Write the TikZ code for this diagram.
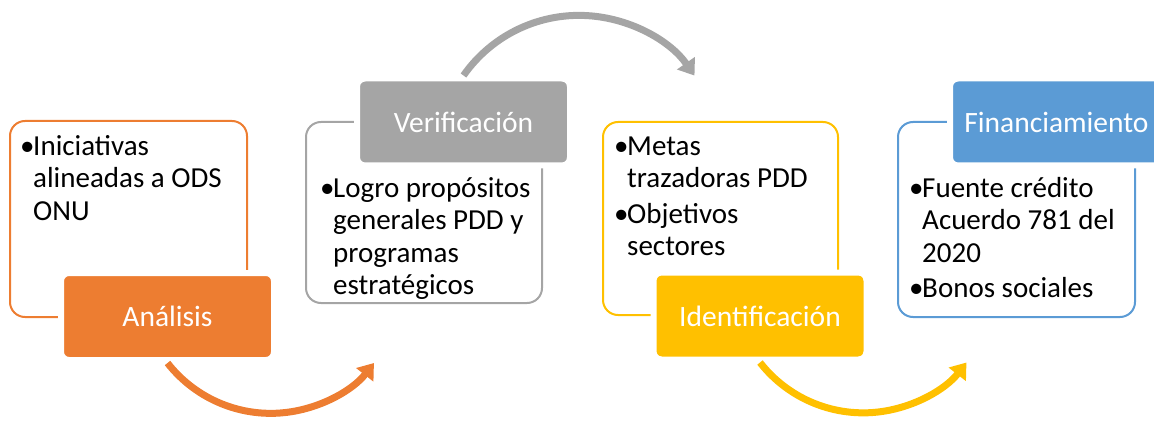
\documentclass[tikz,border=0pt]{standalone}
\usepackage{fontspec}
\setmainfont{Carlito}
\usetikzlibrary{arrows.meta}

\definecolor{orng}{HTML}{ED7D31}
\definecolor{gry}{HTML}{A5A5A5}
\definecolor{yllw}{HTML}{FFC000}
\definecolor{blu}{HTML}{5B9BD5}
\newcommand{\bul}{\strut\makebox[13pt][l]{\textbullet}}
\newcommand{\ind}{\hspace*{13pt}}

\begin{document}
\begin{tikzpicture}[x=1pt,y=1pt,
	frame/.style={draw=#1, line width=2pt, rounded corners=15pt, inner sep=0pt},
	tag/.style={fill=#1, draw=white, line width=6pt, rounded corners=8pt, text=white, minimum width=213pt, minimum height=87pt, inner sep=0pt, font=\fontsize{29.5}{33}\selectfont},
	txt/.style={anchor=north west, align=left, inner sep=0pt, font=\fontsize{29}{32.5}\selectfont},
	arrow/.style={draw=#1, line width=7pt, -{Triangle[length=15pt,width=21pt]}}]
	\useasboundingbox (0,0) rectangle (1154,421);

	% outline boxes
	\node[frame=orng, minimum width=237pt, minimum height=196pt] (b1) at (128.5,202) {};
	\node[frame=gry, minimum width=236pt, minimum height=181pt] (b2) at (424,208.5) {};
	\node[frame=yllw, minimum width=235pt, minimum height=193pt] (b3) at (720.5,202.5) {};
	\node[frame=blu, minimum width=237pt, minimum height=195pt] (b4) at (1016.5,201.5) {};

	% box texts
	\node[txt] (t1) at ([shift={(11,-12.5)}]b1.north west) {\bul Iniciativas\\ \ind alineadas a ODS\\ \ind ONU};
	\node[txt] (t2) at ([shift={(15,-53.5)}]b2.north west) {\bul Logro propósitos\\ \ind generales PDD y\\ \ind programas\\ \ind estratégicos};
	\node[txt] (t3) at ([shift={(12,-11.5)}]b3.north west) {\bul Metas\\ \ind trazadoras PDD\\[3pt] \bul Objetivos\\ \ind sectores};
	\node[txt] (t4) at ([shift={(12,-53.5)}]b4.north west) {\bul Fuente crédito\\ \ind Acuerdo 781 del\\ \ind 2020\\[3pt] \bul Bonos sociales};

	% labels
	\node[tag=orng] (ana) at (167.5,104.5) {Análisis};
	\node[tag=gry] (ver) at (463.5,299) {Verificación};
	\node[tag=yllw] (ide) at (760,105) {Identificación};
	\node[tag=blu] (fin) at (1056.5,299) {Financiamiento};

	% arrows
	\draw[arrow=orng] (ana.south) arc[start angle=218, end angle=322, radius=131];
	\draw[arrow=gry] (ver.north) arc[start angle=145, end angle=35, radius=141];
	\draw[arrow=yllw] (ide.south) arc[start angle=218, end angle=322, radius=131];
\end{tikzpicture}
\end{document}
